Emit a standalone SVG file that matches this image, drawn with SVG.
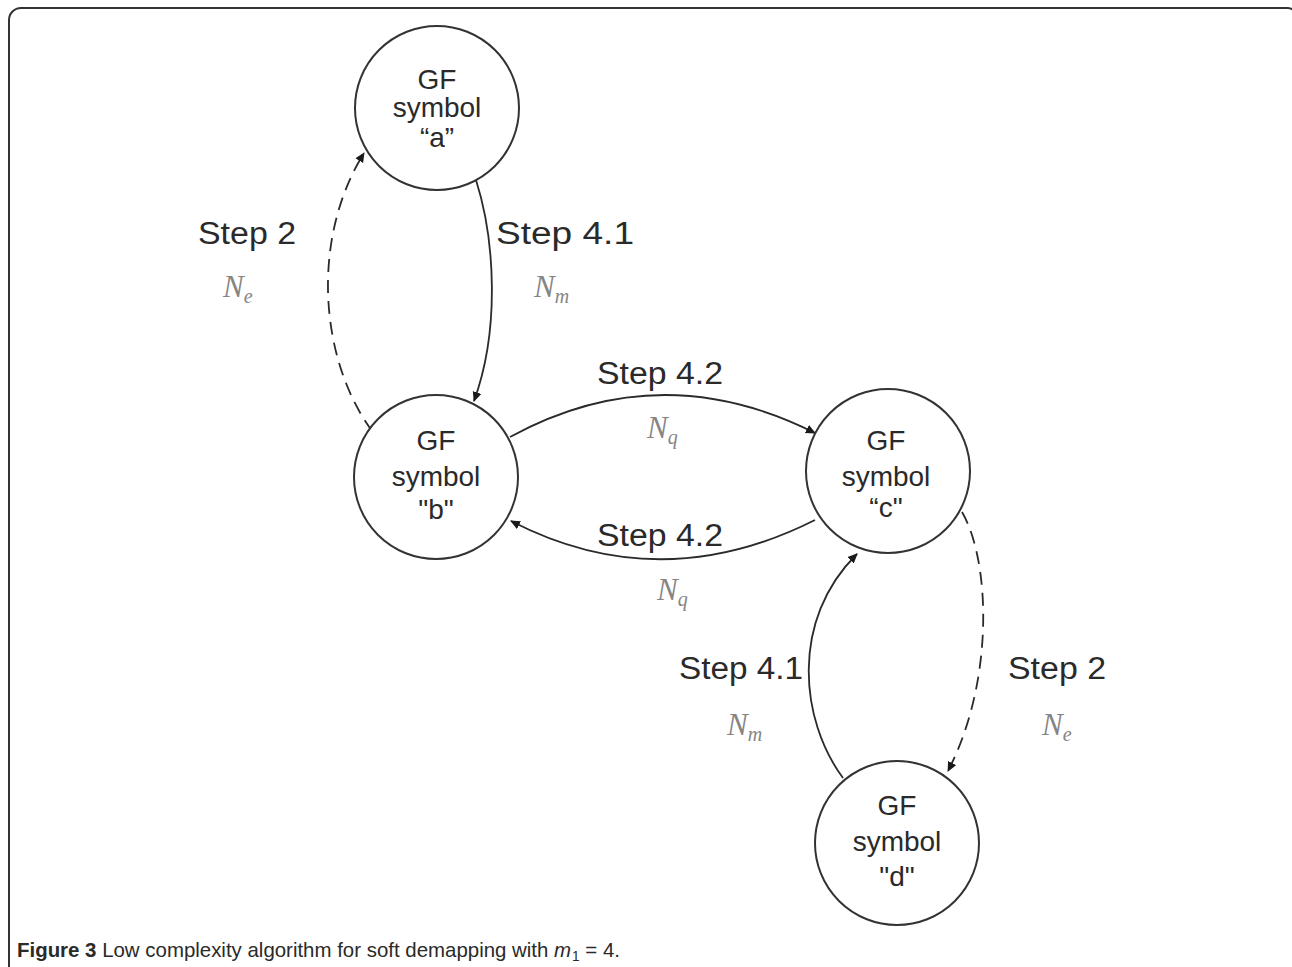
<svg xmlns="http://www.w3.org/2000/svg" width="1292" height="967" viewBox="0 0 1292 967">
<style>
.node circle{fill:#fff;stroke:#333;stroke-width:2}
.nt{font-family:"Liberation Sans",Arial,sans-serif;font-size:28px;fill:#2a2a2a;text-anchor:middle}
.step{font-family:"Liberation Sans",Arial,sans-serif;font-size:31px;fill:#2a2a2a}
.var{font-family:"Liberation Serif","Times New Roman",serif;font-style:italic;font-size:31px;fill:#858585}
.sub{font-size:20px}
.edge{fill:none;stroke:#2a2a2a;stroke-width:1.8}
.dash{stroke-dasharray:13 8}
.cap{font-family:"Liberation Sans",Arial,sans-serif;font-size:21px;fill:#2a2a2a}
</style>
<defs>
<marker id="arr" viewBox="0 0 10 10" refX="9" refY="5" markerWidth="10" markerHeight="10" markerUnits="userSpaceOnUse" orient="auto">
<path d="M0,0.5 L10,5 L0,9.5 z" fill="#1a1a1a"/>
</marker>
</defs>
<rect x="9" y="8" width="1290" height="1010" rx="12" fill="none" stroke="#333" stroke-width="2"/>
<g id="connectors">
<path class="edge dash" d="M372 431 C320 360 310 240 364 153" marker-end="url(#arr)"/>
<path class="edge" d="M476 180 C495 240 500 330 474 401" marker-end="url(#arr)"/>
<path class="edge" d="M510 437 Q660 355 815 433" marker-end="url(#arr)"/>
<path class="edge" d="M815 520 Q660 598 511 521" marker-end="url(#arr)"/>
<path class="edge" d="M843 778 C800 720 790 620 857 554" marker-end="url(#arr)"/>
<path class="edge dash" d="M962 512 C990 560 995 680 948 771" marker-end="url(#arr)"/>
</g>
<g id="node-a" class="node">
<circle cx="437" cy="108" r="82"/>
<text class="nt" x="437" y="89">GF</text>
<text class="nt" x="437" y="117">symbol</text>
<text class="nt" x="437" y="147">“a”</text>
</g>
<g id="node-b" class="node">
<circle cx="436" cy="477" r="82"/>
<text class="nt" x="436" y="450">GF</text>
<text class="nt" x="436" y="486">symbol</text>
<text class="nt" x="436" y="519">"b"</text>
</g>
<g id="node-c" class="node">
<circle cx="888" cy="471" r="82"/>
<text class="nt" x="886" y="450">GF</text>
<text class="nt" x="886" y="486">symbol</text>
<text class="nt" x="886" y="517">“c"</text>
</g>
<g id="node-d" class="node">
<circle cx="897" cy="843" r="82"/>
<text class="nt" x="897" y="815">GF</text>
<text class="nt" x="897" y="851">symbol</text>
<text class="nt" x="897" y="886">"d"</text>
</g>
<g id="labels">
<text class="step" x="198" y="244" textLength="98" lengthAdjust="spacingAndGlyphs">Step 2</text>
<text class="var" x="223" y="297">N<tspan class="sub" dy="6">e</tspan></text>
<text class="step" x="496" y="244" textLength="138" lengthAdjust="spacingAndGlyphs">Step 4.1</text>
<text class="var" x="534" y="297">N<tspan class="sub" dy="6">m</tspan></text>
<text class="step" x="597" y="384" textLength="126" lengthAdjust="spacingAndGlyphs">Step 4.2</text>
<text class="var" x="647" y="438">N<tspan class="sub" dy="6">q</tspan></text>
<text class="step" x="597" y="546" textLength="126" lengthAdjust="spacingAndGlyphs">Step 4.2</text>
<text class="var" x="657" y="600">N<tspan class="sub" dy="6">q</tspan></text>
<text class="step" x="679" y="679" textLength="124" lengthAdjust="spacingAndGlyphs">Step 4.1</text>
<text class="var" x="727" y="735">N<tspan class="sub" dy="6">m</tspan></text>
<text class="step" x="1008" y="679" textLength="98" lengthAdjust="spacingAndGlyphs">Step 2</text>
<text class="var" x="1042" y="735">N<tspan class="sub" dy="6">e</tspan></text>
</g>
<text class="cap" x="17" y="957" textLength="603" lengthAdjust="spacingAndGlyphs"><tspan font-weight="bold">Figure 3</tspan> Low complexity algorithm for soft demapping with <tspan font-style="italic">m</tspan><tspan font-size="14" dx="1" dy="4">1</tspan><tspan dy="-4"> = 4.</tspan></text>
</svg>
